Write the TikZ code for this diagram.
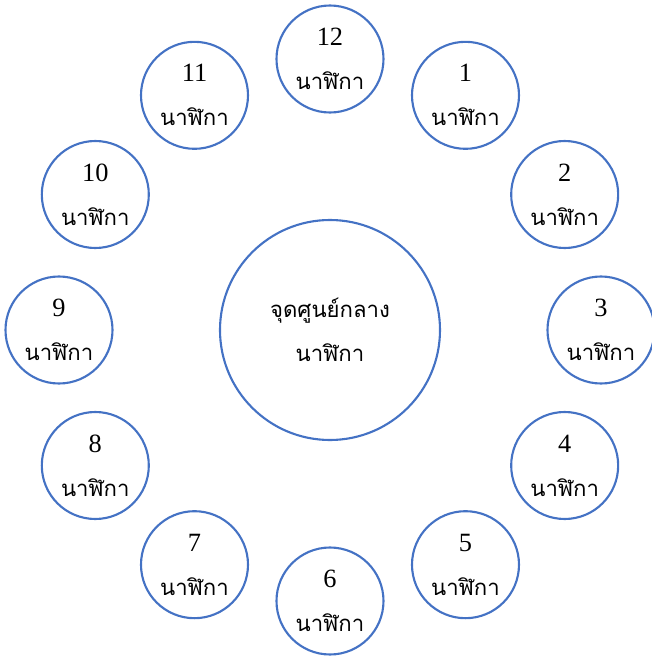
\documentclass[tikz,border=0pt]{standalone}
\usepackage{fontspec}
\setmainfont{Liberation Serif}
\newfontfamily\thaifont[Script=Thai,Scale=0.84]{Loma}
\usepackage{tikz}
\definecolor{clockblue}{RGB}{68,114,196}
\tikzset{
every node/.style={align=center, font=\fontsize{15}{25}\selectfont}, % text in all circles
hour/.style={draw=clockblue, circle, line width=1.2pt, minimum size=2.14cm, inner sep=0pt},
hub/.style={draw=clockblue, circle, line width=1.2pt, minimum size=4.4cm, inner sep=0pt},
}
\begin{document}
\begin{tikzpicture}
\useasboundingbox (-6.6,-6.52) rectangle (6.44,6.6);
\node[hub] at (0,0) (c) {{\thaifont จุดศูนย์กลาง}\\{\thaifont นาฬิกา}};
\node[hour] at (90:5.42) (h12) {12\\{\thaifont นาฬิกา}};
\node[hour] at (60:5.42) (h1) {1\\{\thaifont นาฬิกา}};
\node[hour] at (30:5.42) (h2) {2\\{\thaifont นาฬิกา}};
\node[hour] at (0:5.42) (h3) {3\\{\thaifont นาฬิกา}};
\node[hour] at (-30:5.42) (h4) {4\\{\thaifont นาฬิกา}};
\node[hour] at (-60:5.42) (h5) {5\\{\thaifont นาฬิกา}};
\node[hour] at (-90:5.42) (h6) {6\\{\thaifont นาฬิกา}};
\node[hour] at (-120:5.42) (h7) {7\\{\thaifont นาฬิกา}};
\node[hour] at (-150:5.42) (h8) {8\\{\thaifont นาฬิกา}};
\node[hour] at (180:5.42) (h9) {9\\{\thaifont นาฬิกา}};
\node[hour] at (150:5.42) (h10) {10\\{\thaifont นาฬิกา}};
\node[hour] at (120:5.42) (h11) {11\\{\thaifont นาฬิกา}};
\end{tikzpicture}
\end{document}
